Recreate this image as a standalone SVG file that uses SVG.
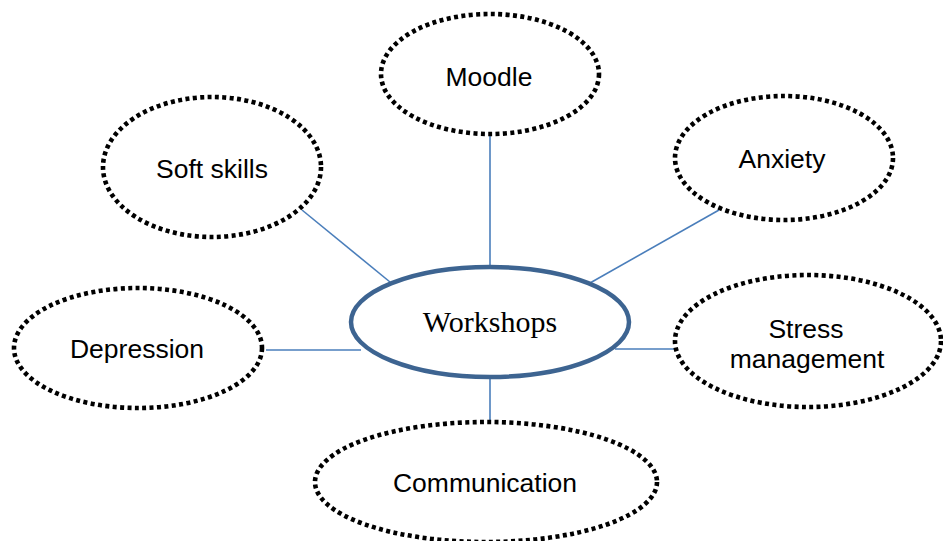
<svg xmlns="http://www.w3.org/2000/svg" width="943" height="541" viewBox="0 0 943 541">
  <style>
    .topic { fill: #ffffff; stroke: #000000; stroke-width: 4.6; stroke-dasharray: 4 3.4; }
    .hub { fill: #ffffff; stroke: #3d6491; stroke-width: 4.5; }
    .link { stroke: #4a7ebb; stroke-width: 1.6; fill: none; }
    .label { font-family: "Liberation Sans", Arial, sans-serif; font-size: 26.5px; fill: #000000; text-anchor: middle; }
    .hub-label { font-family: "Liberation Serif", "Times New Roman", serif; font-size: 30px; fill: #000000; text-anchor: middle; }
  </style>
  <rect width="943" height="541" fill="#ffffff"/>

  <!-- spokes from the hub to each topic -->
  <g id="connectors">
    <line class="link" x1="490" y1="136" x2="490" y2="267"/>
    <line class="link" x1="302" y1="210" x2="390" y2="282"/>
    <line class="link" x1="719" y1="210" x2="590" y2="283"/>
    <line class="link" x1="266" y1="350" x2="361" y2="350"/>
    <line class="link" x1="615" y1="349" x2="675" y2="349"/>
    <line class="link" x1="490" y1="378" x2="490" y2="421"/>
  </g>

  <g id="moodle">
    <ellipse class="topic" cx="490" cy="74" rx="109" ry="60"/>
    <text class="label" x="489" y="86">Moodle</text>
  </g>

  <g id="soft-skills">
    <ellipse class="topic" cx="212" cy="167" rx="109" ry="70"/>
    <text class="label" x="212" y="178">Soft skills</text>
  </g>

  <g id="anxiety">
    <ellipse class="topic" cx="784" cy="158" rx="109" ry="62"/>
    <text class="label" x="782" y="168">Anxiety</text>
  </g>

  <g id="depression">
    <ellipse class="topic" cx="138" cy="348" rx="124" ry="60"/>
    <text class="label" x="137" y="358">Depression</text>
  </g>

  <g id="stress-management">
    <ellipse class="topic" cx="808" cy="341" rx="133" ry="66"/>
    <text class="label" x="806" y="338">Stress</text>
    <text class="label" x="807" y="368">management</text>
  </g>

  <g id="communication">
    <ellipse class="topic" cx="486" cy="482" rx="171" ry="60"/>
    <text class="label" x="485" y="492">Communication</text>
  </g>

  <g id="workshops">
    <ellipse class="hub" cx="490" cy="322" rx="139" ry="55"/>
    <text class="hub-label" x="490" y="332">Workshops</text>
  </g>
</svg>
